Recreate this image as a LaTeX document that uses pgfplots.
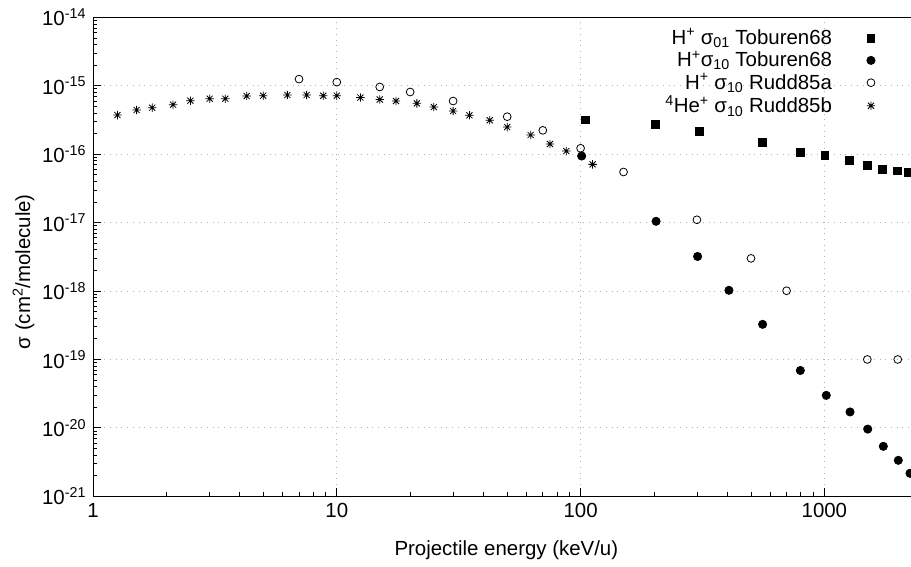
\documentclass[border=0pt]{standalone}
\usepackage{fontspec}
\setmainfont{Liberation Sans}
\usepackage{pgfplots}
\pgfplotsset{compat=1.18}
\newcommand\ff{\fontsize{20.5}{24}\selectfont}
\pgfdeclareplotmark{gpstar}{%
  \pgfpathmoveto{\pgfqpoint{-\pgfplotmarksize}{0pt}}\pgfpathlineto{\pgfqpoint{\pgfplotmarksize}{0pt}}%
  \pgfpathmoveto{\pgfqpoint{0pt}{-\pgfplotmarksize}}\pgfpathlineto{\pgfqpoint{0pt}{\pgfplotmarksize}}%
  \pgfpathmoveto{\pgfqpoint{-0.72\pgfplotmarksize}{-0.72\pgfplotmarksize}}\pgfpathlineto{\pgfqpoint{0.72\pgfplotmarksize}{0.72\pgfplotmarksize}}%
  \pgfpathmoveto{\pgfqpoint{-0.72\pgfplotmarksize}{0.72\pgfplotmarksize}}\pgfpathlineto{\pgfqpoint{0.72\pgfplotmarksize}{-0.72\pgfplotmarksize}}%
  \pgfusepathqstroke}
\begin{document}
\ff
\begin{tikzpicture}
\begin{axis}[
  at={(0,0)}, anchor=south west,
  xmode=log, ymode=log,
  scale only axis, width=828.4bp, height=479bp,
  xmin=1, xmax=2500, ymin=1e-21, ymax=1e-14,
  xtick={1,10,100,1000}, xticklabels={1,10,100,1000},
  ytick={1e-21,1e-20,1e-19,1e-18,1e-17,1e-16,1e-15,1e-14},
  yticklabels={10\textsuperscript{-21},10\textsuperscript{-20},10\textsuperscript{-19},10\textsuperscript{-18},10\textsuperscript{-17},10\textsuperscript{-16},10\textsuperscript{-15},10\textsuperscript{-14}},
  tick pos=left, tick align=inside,
  major tick length=8bp, minor tick length=4bp,
  every tick/.style={black, line width=0.8bp},
  axis line style={line width=0.8bp},
  grid=major,
  major grid style={gray!60, line width=0.8bp, dash pattern=on 0.8bp off 4.9bp},
  tick label style={font=\ff},
  label style={font=\ff},
  xlabel={Projectile energy (keV/u)},
  ylabel={σ (cm\textsuperscript{2}/molecule)},
  every axis x label/.style={at={(axis description cs:0.499,-0.112)}, anchor=center},
  every axis y label/.style={at={(axis description cs:-0.084,0.469)}, anchor=center, rotate=90},
  legend style={draw=none, fill=none, font=\ff, at={(axis description cs:0.949,0.985)}, anchor=north east, row sep=-0.5bp},
  legend cell align=right,
  legend plot pos=right,
  legend image code/.code={\path[draw=none,fill=none] (0bp,-5bp) rectangle (42bp,5bp); \draw[mark repeat=1,#1] plot coordinates {(37bp,0bp)};},
  mark options={line width=0.8bp, solid},
]
\addplot[only marks, black, mark=square*, mark size=3.9bp] coordinates {
(105,3.16e-16)(202,2.76e-16)(307,2.16e-16)(555,1.47e-16)(800,1.05e-16)(1005,9.6e-17)(1265,8.2e-17)(1500,6.8e-17)(1735,6.0e-17)(1990,5.7e-17)(2210,5.36e-17)};
\addlegendentry{H\textsuperscript{+} σ\textsubscript{01} Toburen68}
\addplot[only marks, black, mark=*, mark size=4.1bp] coordinates {
(101,9.4e-17)(204,1.045e-17)(302,3.2e-18)(406,1.025e-18)(558,3.26e-19)(797,6.9e-20)(1018,2.99e-20)(1274,1.71e-20)(1506,9.6e-21)(1745,5.38e-21)(2010,3.36e-21)(2245,2.17e-21)};
\addlegendentry{H\textsuperscript{+}σ\textsubscript{10} Toburen68}
\addplot[only marks, black, mark=o, mark size=3.9bp] coordinates {
(7,1.25e-15)(10,1.13e-15)(15,9.6e-16)(20,8.1e-16)(30,5.98e-16)(50,3.53e-16)(70,2.23e-16)(100,1.22e-16)(150,5.49e-17)(300,1.10e-17)(500,3.0e-18)(700,1.01e-18)(1500,1.0e-19)(2000,1.0e-19)};
\addlegendentry{H\textsuperscript{+} σ\textsubscript{10} Rudd85a}
\addplot[only marks, black, mark=gpstar, mark size=4.2bp] coordinates {
(1.26,3.73e-16)(1.51,4.42e-16)(1.75,4.78e-16)(2.13,5.28e-16)(2.51,6.04e-16)(3.01,6.46e-16)(3.49,6.46e-16)(4.27,7.08e-16)(4.99,7.15e-16)(6.27,7.32e-16)(7.52,7.32e-16)(8.8,7.15e-16)(10,7.15e-16)(12.5,6.73e-16)(15,6.29e-16)(17.5,5.98e-16)(21.3,5.53e-16)(25,4.89e-16)(30,4.27e-16)(35,3.70e-16)(42.4,3.13e-16)(50,2.49e-16)(62.4,1.905e-16)(74.9,1.41e-16)(87.4,1.11e-16)(112,7.1e-17)};
\addlegendentry{\textsuperscript{4}He\textsuperscript{+} σ\textsubscript{10} Rudd85b}
\end{axis}
\pgfresetboundingbox
\path[use as bounding box] (-93bp,-70.7bp) rectangle (818bp,496.3bp);
\end{tikzpicture}
\end{document}
